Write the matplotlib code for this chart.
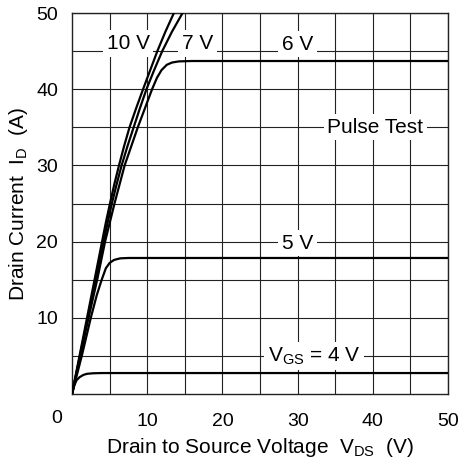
import matplotlib
matplotlib.use("Agg")
import matplotlib.pyplot as plt

plt.rcParams['font.family'] = ['Liberation Sans', 'DejaVu Sans']
plt.rcParams['mathtext.fontset'] = 'custom'
plt.rcParams['mathtext.rm'] = 'Liberation Sans'
plt.rcParams['mathtext.it'] = 'Liberation Sans'

# ---- data ----
vgs10_i = [0, 5, 10, 15, 20, 22.5, 25, 27.5, 30, 32.5, 35, 37.5, 40, 42.5, 45, 47.5, 50, 52]
vgs10_v = [0, 1.0, 2.0, 3.0, 4.0, 4.5, 5.05, 5.62, 6.25, 6.92, 7.65, 8.53, 9.45, 10.4, 11.35, 12.4, 13.55, 14.5]

vgs7_i = [0, 5, 10, 15, 20, 22.5, 25, 27.5, 30, 32.5, 35, 37.5, 40, 42.5, 45, 47.5, 50, 52]
vgs7_v = [0, 1.05, 2.1, 3.15, 4.2, 4.74, 5.3, 5.93, 6.6, 7.37, 8.2, 9.03, 9.9, 10.92, 12.0, 13.27, 14.7, 15.9]

vgs6_i = [0, 5, 10, 15, 20, 25, 30, 35, 40, 41.5, 42.5, 43.2, 43.5, 43.65, 43.7, 43.7]
vgs6_v = [0, 1.1, 2.2, 3.35, 4.4, 5.65, 7.0, 8.75, 10.65, 11.3, 11.9, 12.6, 13.3, 14.2, 16, 50]

vgs5_v = [0, 1.3, 2.5, 3.3, 3.95, 4.5, 5.0, 5.6, 6.4, 7.5, 50]
vgs5_i = [0, 5, 10, 13, 15, 16.5, 17.2, 17.6, 17.8, 17.85, 17.85]

vgs4_v = [0, 0.3, 0.6, 1.0, 1.5, 2.0, 2.8, 4.0, 50]
vgs4_i = [0, 1.1, 1.8, 2.2, 2.5, 2.65, 2.72, 2.75, 2.75]

x_ticks = [10, 20, 30, 40, 50]
y_ticks = [10, 20, 30, 40, 50]

fig = plt.figure(figsize=(4.63, 4.63), dpi=100)
ax = fig.add_axes([72/463, 1 - 394/463, 376/463, 381/463])
ax.set_xlim(0, 50)
ax.set_ylim(0, 50)

ax.set_xticks(x_ticks)
ax.set_yticks(y_ticks)
ax.set_xticks([5, 15, 25, 35, 45], minor=True)
ax.set_yticks([5, 15, 25, 35, 45], minor=True)
ax.tick_params(which='both', length=0, labelsize=14)
ax.tick_params(axis='x', pad=14)
ax.tick_params(axis='y', pad=10)
ax.grid(True, which='both', color='#222222', linewidth=0.8, zorder=0)
ax.set_axisbelow(True)
for s in ax.spines.values():
    s.set_linewidth(1.0)
    s.set_color('#222222')

ax.text(-2, -3.2, '0', transform=ax.transData, ha='center', va='center', fontsize=14, clip_on=False)

lw = 1.6
for v, i in [(vgs10_v, vgs10_i), (vgs7_v, vgs7_i), (vgs6_v, vgs6_i), (vgs5_v, vgs5_i), (vgs4_v, vgs4_i)]:
    ax.plot(v, i, color='black', lw=lw, zorder=4, solid_capstyle='butt', solid_joinstyle='round')

box = dict(facecolor='white', edgecolor='none', pad=2.5)
fs = 15
ax.text(7.45, 46.0, '10 V', ha='center', va='center', fontsize=fs, bbox=box, zorder=3)
ax.text(16.7, 46.0, '7 V', ha='center', va='center', fontsize=fs, bbox=box, zorder=3)
ax.text(30.0, 45.9, '6 V', ha='center', va='center', fontsize=fs, bbox=box, zorder=3)
ax.text(30.0, 19.8, '5 V', ha='center', va='center', fontsize=fs, bbox=box, zorder=3)
ax.text(32.2, 5.0, r'V$_{\mathrm{GS}}$ = 4 V', ha='center', va='center', fontsize=fs, bbox=box, zorder=3)
ax.text(40.3, 35.0, 'Pulse Test', ha='center', va='center', fontsize=fs, bbox=box, zorder=3)

ax.set_xlabel(r'Drain to Source Voltage  V$_{\mathrm{DS}}$  (V)', fontsize=15, labelpad=4)
ax.set_ylabel(r'Drain Current  I$_{\mathrm{D}}$  (A)', fontsize=15)
ax.yaxis.set_label_coords(-0.112, 0.5)

fig.savefig('out.png', dpi=100, facecolor='white')
